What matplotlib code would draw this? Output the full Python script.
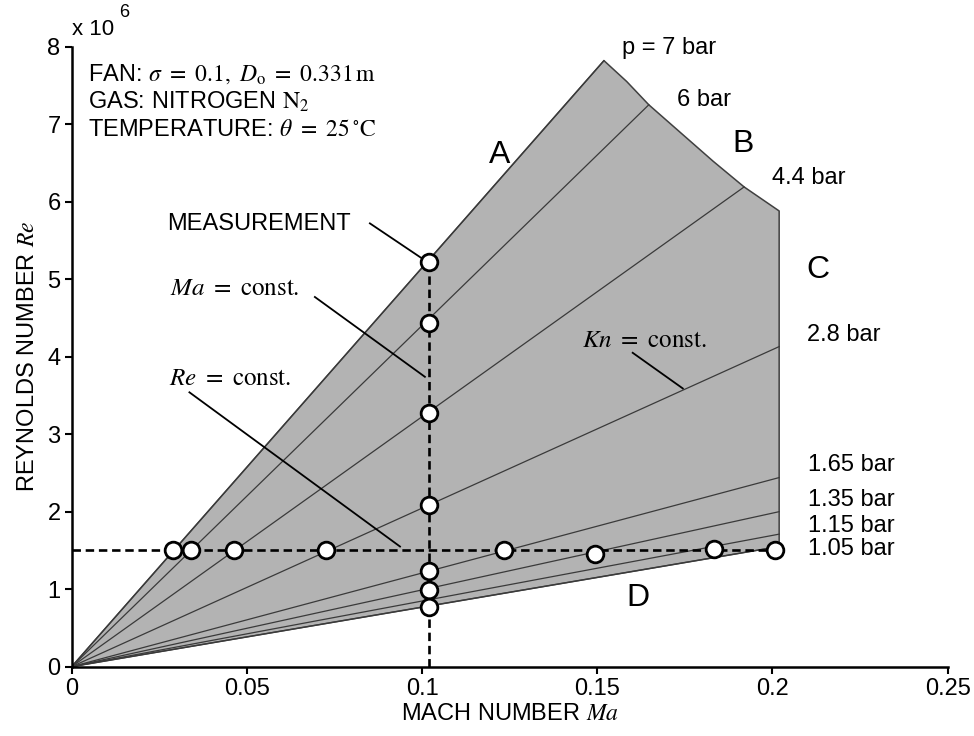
import matplotlib
matplotlib.use("Agg")
import matplotlib.pyplot as plt

plt.rcParams['font.family'] = ['Liberation Sans', 'DejaVu Sans']
plt.rcParams['mathtext.fontset'] = 'stix'

# ---- data (Re in units of 1e6) ----
pressure_labels = ["p = 7 bar", "6 bar", "4.4 bar", "2.8 bar", "1.65 bar", "1.35 bar", "1.15 bar", "1.05 bar"]
line_ma_end = [0.1519, 0.1647, 0.1919, 0.2019, 0.2019, 0.2019, 0.2019, 0.2019]
line_re_end = [7.82, 7.25, 6.19, 4.13, 2.44, 2.00, 1.71, 1.55]

boundary_b_ma = [0.1519, 0.1584, 0.1647, 0.1831, 0.1919, 0.2019]
boundary_b_re = [7.82, 7.55, 7.25, 6.52, 6.19, 5.88]

meas_ma_const = 0.102
meas_v_re = [5.22, 4.43, 3.27, 2.08, 1.23, 0.99, 0.77]
meas_re_const = 1.50
meas_h_ma = [0.0290, 0.0340, 0.0464, 0.0727, 0.1233, 0.1494, 0.1833, 0.2007]
meas_h_re = [1.50, 1.50, 1.50, 1.50, 1.50, 1.46, 1.515, 1.506]

x_ticks = [0, 0.05, 0.1, 0.15, 0.2, 0.25]
x_tick_labels = ["0", "0.05", "0.1", "0.15", "0.2", "0.25"]
y_ticks = [0, 1, 2, 3, 4, 5, 6, 7, 8]
y_tick_labels = ["0", "1", "2", "3", "4", "5", "6", "7", "8"]

# label positions (data coords)
plabel_ma = [0.157, 0.1727, 0.1998, 0.2098, 0.2102, 0.2102, 0.2102, 0.2102]
plabel_re = [7.98, 7.31, 6.30, 4.28, 2.60, 2.15, 1.81, 1.52]

fig = plt.figure(figsize=(9.74, 7.36), dpi=100)
ax = fig.add_axes([0.0736, 0.0942, 0.8994, 0.8424])

FS = 17
GRAY_FILL = '#b3b3b3'
LINE_C = '#3a3a3a'

# shaded region
poly_x = [0.0] + boundary_b_ma + [line_ma_end[-1], 0.0]
poly_y = [0.0] + boundary_b_re + [line_re_end[-1], 0.0]
ax.fill(poly_x, poly_y, color=GRAY_FILL, lw=0, zorder=1)
ax.plot(poly_x, poly_y, color='#404040', lw=1.1, zorder=2)

# constant pressure lines
for me, re in zip(line_ma_end, line_re_end):
    ax.plot([0, me], [0, re], color=LINE_C, lw=0.9, zorder=2)

# dashed measurement lines
dash = (0, (3.2, 1.8))
ax.plot([meas_ma_const, meas_ma_const], [0, meas_v_re[0]], color='black', lw=1.9, ls=dash, zorder=3)
ax.plot([0, meas_h_ma[-1]], [meas_re_const, meas_re_const], color='black', lw=1.9, ls=dash, zorder=3)

# leader lines
leaders = [
    ([0.0851, 0.0999], [5.72, 5.27]),
    ([0.0694, 0.1008], [4.77, 3.74]),
    ([0.0336, 0.0937], [3.54, 1.55]),
    ([0.1601, 0.1744], [4.05, 3.59]),
]
for lx, ly in leaders:
    ax.plot(lx, ly, color='black', lw=1.3, zorder=4)

# markers
mk = dict(marker='o', ms=12, mfc='white', mec='black', mew=2.0, ls='none', zorder=5, clip_on=False)
ax.plot([meas_ma_const] * len(meas_v_re), meas_v_re, **mk)
ax.plot(meas_h_ma, meas_h_re, **mk)

# pressure labels
for lbl, x, y in zip(pressure_labels, plabel_ma, plabel_re):
    ax.text(x, y, lbl, fontsize=FS, ha='left', va='center', zorder=6)

# region letters
for lbl, x, y in [("A", 0.1222, 6.60), ("B", 0.1917, 6.75), ("C", 0.2098, 5.12), ("D", 0.1617, 0.88)]:
    ax.text(x, y, lbl, fontsize=23, ha='center' if lbl in "ABD" else 'left', va='center', zorder=6)

# annotations
ax.text(0.0273, 5.71, "MEASUREMENT", fontsize=FS, ha='left', va='center')
ax.text(0.0281, 4.88, r"$Ma\ =\ \mathrm{const.}$", fontsize=FS + 1, ha='left', va='center')
ax.text(0.0279, 3.72, r"$Re\ =\ \mathrm{const.}$", fontsize=FS + 1, ha='left', va='center')
ax.text(0.1455, 4.22, r"$Kn\ =\ \mathrm{const.}$", fontsize=FS + 1, ha='left', va='center')

ax.text(0.0047, 7.65, r"FAN: $\sigma\ =\ 0.1,\ D_\mathrm{o}\ =\ 0.331\,\mathrm{m}$", fontsize=FS, ha='left', va='center')
ax.text(0.0047, 7.29, r"GAS: NITROGEN $\mathrm{N}_2$", fontsize=FS, ha='left', va='center')
ax.text(0.0047, 6.93, r"TEMPERATURE: $\theta\ =\ 25\,^{\circ}\mathrm{C}$", fontsize=FS, ha='left', va='center')

ax.text(0.0, 8.08, "x 10", fontsize=FS - 1, ha='left', va='bottom')
ax.text(0.0135, 8.33, "6", fontsize=FS - 4, ha='left', va='bottom')

# axes styling
ax.set_xlim(0, 0.25)
ax.set_ylim(0, 8)
ax.set_xticks(x_ticks)
ax.set_xticklabels(x_tick_labels)
ax.set_yticks(y_ticks)
ax.set_yticklabels(y_tick_labels)
for s in ['top', 'right']:
    ax.spines[s].set_visible(False)
for s in ['left', 'bottom']:
    ax.spines[s].set_linewidth(1.8)
ax.tick_params(direction='out', length=5, width=1.5, labelsize=FS, pad=3)

ax.set_xlabel(r"MACH NUMBER $Ma$", fontsize=FS, labelpad=2)
ax.set_ylabel(r"REYNOLDS NUMBER $Re$", fontsize=FS, labelpad=6)

fig.savefig("out.png", dpi=100)
